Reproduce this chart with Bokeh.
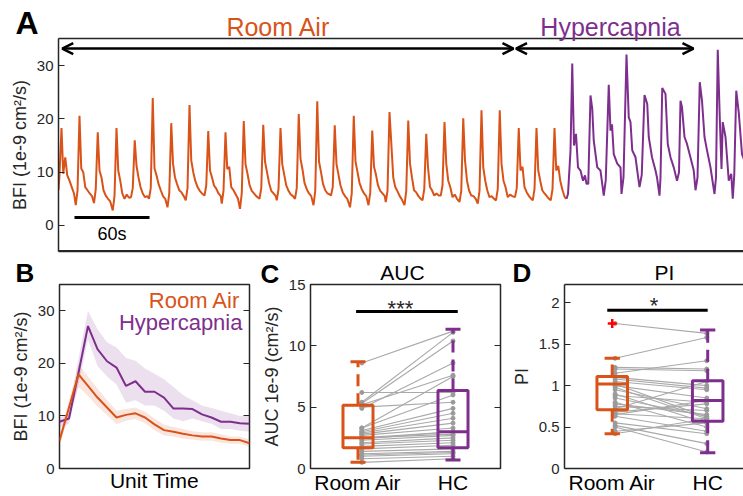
from bokeh.plotting import figure
from bokeh.layouts import column, row
from bokeh.models import Range1d, LinearAxis, Label, Arrow, OpenHead, FixedTicker, Span
from bokeh.embed import file_html
from bokeh.resources import INLINE

ORANGE = "#D95319"
PURPLE = "#7E2F8E"
AX = "#262626"
GRAY_LINE = "#a9a9a9"
GRAY_DOT = "#9a9a9a"
FONT = "Liberation Sans"

# ---------------- Panel A: continuous BFI trace (time in s) ----------------
ra_t = [
    0.0, 0.8, 2.4, 3.8, 5.4, 7.0, 8.8, 10.6, 12.4,
    13.8, 15.2, 16.8, 18.2, 19.8, 21.4, 23.2, 25.0, 26.8,
    28.4, 29.8, 31.4, 32.8, 34.4, 36.0, 37.8, 39.6, 41.4,
    43.4, 44.8, 46.4, 47.8, 49.4, 51.0, 52.8, 54.6, 56.4,
    58.0, 59.4, 61.0, 62.4, 64.0, 65.6, 67.4, 69.2, 71.0,
    72.4, 73.8, 75.4, 76.8, 78.4, 80.0, 81.8, 83.6, 85.4,
    87.2, 88.6, 90.2, 91.6, 93.2, 94.8, 96.6, 98.4, 100.2,
    101.8, 103.2, 104.8, 106.2, 107.8, 109.4, 111.2, 113.0, 114.8,
    116.8, 118.2, 119.8, 121.2, 122.8, 124.4, 126.2, 128.0, 129.8,
    130.6, 132.0, 133.6, 135.0, 136.6, 138.2, 140.0, 141.8, 143.6,
    145.2, 146.6, 148.2, 149.6, 151.2, 152.8, 154.6, 156.4, 158.2,
    160.8, 162.2, 163.8, 165.2, 166.8, 168.4, 170.2, 172.0, 173.8,
    174.6, 176.0, 177.6, 179.0, 180.6, 182.2, 184.0, 185.8, 187.6,
    189.2, 190.6, 192.2, 193.6, 195.2, 196.8, 198.6, 200.4, 202.2,
    204.0, 205.4, 207.0, 208.4, 210.0, 211.6, 213.4, 215.2, 217.0,
    218.0, 219.4, 221.0, 222.4, 224.0, 225.6, 227.4, 229.2, 231.0,
    233.2, 234.6, 236.2, 237.6, 239.2, 240.8, 242.6, 244.4, 246.2,
    248.0, 249.4, 251.0, 252.4, 254.0, 255.6, 257.4, 259.2, 261.0,
    261.8, 263.2, 264.8, 266.2, 267.8, 269.4, 271.2, 273.0, 274.8,
    276.8, 278.2, 279.8, 281.2, 282.8, 284.4, 286.2, 288.0, 289.8,
    291.2, 292.6, 294.2, 295.6, 297.2, 298.8, 300.6, 302.4, 304.2,
    305.8, 307.2, 308.8, 310.2, 311.8, 313.4, 315.2, 317.0, 318.8,
    320.8, 322.2, 323.8, 325.2, 326.8, 328.4, 330.2, 332.0, 333.8,
    335.4, 336.8, 338.4, 339.8, 341.4, 343.0, 344.8, 346.6, 348.4,
    350.0, 351.4, 353.0, 354.4, 356.0, 357.6, 359.4, 361.2, 363.0,
    365.2, 366.6, 368.2, 369.6, 371.2, 372.8, 374.6, 376.4, 378.2,
    379.4, 380.8, 382.4, 383.8, 385.4, 387.0, 388.8, 390.6, 392.4,
    393.8, 395.2, 396.8, 398.2, 399.8, 401.4, 403.2, 405.0, 406.4,
]
ra_bfi = [
    6.6, 9.5, 18.3, 9.7, 12.8, 9.4, 8.4, 7.2, 6.0,
    3.8, 6.5, 20.6, 10.7, 10.0, 7.2, 6.6, 6.0, 5.5,
    4.2, 6.8, 17.5, 10.3, 9.0, 6.6, 5.6, 5.0, 4.5,
    2.8, 5.5, 18.3, 10.3, 8.4, 6.0, 5.0, 5.8, 5.2,
    5.3, 7.0, 16.0, 11.2, 9.0, 7.2, 6.0, 5.3, 5.5,
    5.0, 7.0, 23.9, 10.7, 9.4, 7.8, 6.6, 5.5, 5.0,
    3.4, 6.0, 19.2, 11.6, 9.0, 7.8, 6.6, 6.2, 5.5,
    4.7, 7.0, 22.6, 12.2, 10.0, 8.4, 7.2, 6.5, 6.0,
    5.6, 7.5, 17.7, 10.3, 9.0, 7.5, 6.9, 6.0, 5.5,
    4.1, 6.5, 17.5, 10.6, 11.0, 7.2, 6.6, 5.8, 5.0,
    3.1, 6.0, 19.6, 11.5, 9.7, 7.6, 6.5, 6.0, 5.5,
    5.0, 7.0, 18.9, 12.0, 10.0, 8.0, 6.5, 6.0, 5.5,
    4.7, 6.8, 18.3, 11.5, 9.5, 7.5, 6.5, 5.8, 5.5,
    5.0, 7.0, 20.9, 12.5, 10.5, 8.0, 6.8, 6.0, 5.5,
    3.8, 6.5, 23.3, 12.0, 10.0, 7.8, 6.6, 6.0, 5.8,
    5.6, 7.2, 18.8, 11.5, 9.5, 7.5, 6.2, 5.5, 5.0,
    3.4, 6.0, 20.6, 12.0, 10.0, 8.0, 6.8, 6.0, 5.5,
    3.8, 6.2, 17.8, 11.0, 9.5, 7.5, 6.5, 6.0, 5.5,
    4.4, 6.5, 21.3, 15.6, 9.0, 7.2, 6.4, 5.5, 4.8,
    3.8, 6.5, 19.7, 11.6, 9.0, 6.6, 6.2, 5.5, 5.0,
    4.7, 6.8, 17.2, 10.9, 7.2, 6.6, 5.6, 6.0, 5.6,
    5.6, 7.5, 19.4, 11.6, 8.4, 7.2, 5.3, 5.8, 5.0,
    4.4, 6.5, 20.1, 12.2, 8.4, 6.6, 5.6, 5.5, 5.0,
    4.1, 6.5, 21.6, 10.9, 8.4, 6.6, 5.3, 5.5, 5.0,
    4.7, 6.8, 21.6, 11.6, 8.4, 7.2, 5.3, 5.8, 5.5,
    5.3, 7.0, 18.3, 10.3, 11.0, 7.2, 6.2, 5.5, 5.0,
    4.7, 6.8, 18.3, 10.3, 8.4, 6.6, 6.0, 5.5, 5.0,
    4.7, 6.8, 18.3, 10.3, 11.2, 8.4, 6.6, 5.3, 5.0,
]
hc_t = [
    406.4, 407.6, 409.6, 411.0, 412.4, 414.0, 415.6, 417.6, 419.6, 421.2, 422.4,
    423.8, 425.6, 427.0, 428.2, 431.0, 433.6, 436.2,
    437.8, 440.2, 441.6, 442.8, 444.2, 447.0, 449.6, 450.4,
    452.0, 454.4, 456.2, 457.6, 459.0, 461.6, 463.0, 464.8,
    466.6, 468.8, 471.0, 472.2, 474.8, 477.6, 478.8, 480.8,
    481.6, 483.0, 485.6, 487.4, 489.6, 492.2, 494.8,
    496.4, 497.6, 498.8, 500.8, 502.8, 506.2, 508.2, 509.6,
    511.2, 513.0, 514.8, 516.8, 518.8, 521.6, 522.8, 524.8,
    526.0, 527.4, 529.0, 530.4, 531.4, 533.6, 536.2, 538.2, 539.4,
    540.6, 542.2, 544.2, 546.8, 549.0, 552.0,
]
hc_bfi = [
    5.0, 5.9, 14.0, 30.4, 15.0, 17.2, 10.9, 10.3, 8.4, 9.4, 7.8,
    7.8, 24.4, 21.9, 15.9, 10.9, 10.3, 5.6,
    8.5, 26.4, 17.8, 19.0, 13.4, 11.6, 10.9, 5.9,
    9.0, 32.1, 20.3, 19.4, 14.1, 12.8, 10.3, 7.2,
    9.5, 24.5, 22.8, 16.6, 12.8, 10.3, 9.0, 5.6,
    9.0, 25.8, 24.7, 15.3, 12.8, 10.9, 8.4,
    10.0, 23.4, 22.2, 16.6, 15.3, 12.2, 10.3, 6.6,
    9.0, 26.9, 23.4, 16.6, 14.1, 10.9, 9.0, 5.9,
    9.0, 33.0, 20.3, 10.6, 19.4, 16.6, 8.4, 9.7, 5.0,
    9.5, 25.3, 21.2, 13.4, 12.0, 10.5,
]
a_yticks = [0, 10, 20, 30]
ra_span = (3.0, 364.0)      # Room Air period arrow (s)
hc_span = (366.0, 508.0)    # Hypercapnia period arrow (s)
scale_start, scale_len = 12.8, 60.0

# ---------------- Panel B: averaged single pulse ----------------
unit_t = list(range(21))
b_ra_mean = [5.3, 11.6, 17.9, 15.7, 13.5, 11.6, 9.7, 10.2, 10.5, 9.7, 8.4,
             7.3, 7.0, 6.6, 6.3, 6.1, 6.1, 5.7, 5.4, 5.4, 4.8]
b_ra_hi = [6.3, 13.0, 19.8, 17.5, 15.2, 13.0, 11.0, 11.3, 11.6, 10.8, 9.5,
           8.3, 7.9, 7.5, 7.1, 6.9, 6.9, 6.5, 6.1, 6.1, 5.5]
b_ra_lo = [4.3, 10.0, 15.5, 13.8, 11.8, 10.2, 8.4, 9.1, 9.4, 8.6, 7.3,
           6.3, 6.1, 5.7, 5.5, 5.3, 5.3, 4.9, 4.7, 4.7, 4.1]
b_hc_mean = [8.9, 9.5, 18.2, 27.1, 22.7, 20.4, 19.2, 15.7, 16.6, 14.6, 14.6,
             13.5, 11.4, 11.4, 11.3, 10.3, 9.7, 8.9, 8.9, 8.6, 8.5]
b_hc_hi = [9.6, 10.5, 21.0, 30.0, 26.5, 24.0, 23.0, 21.0, 20.5, 19.0, 18.0,
           17.0, 15.5, 14.0, 13.0, 12.0, 11.5, 11.0, 10.5, 10.0, 10.0]
b_hc_lo = [7.8, 8.5, 16.0, 24.5, 19.5, 17.5, 16.0, 12.5, 13.0, 12.0, 12.0,
           11.0, 9.5, 9.0, 9.5, 9.0, 8.5, 7.5, 7.5, 7.2, 7.0]
b_yticks = [0, 10, 20, 30]

# ---------------- Panel C: AUC, paired per subject ----------------
groups = ["Room Air", "HC"]
auc_ra = [8.6, 5.4, 5.3, 4.9, 5.2, 3.3, 6.2, 5.0, 3.3, 3.1, 3.0, 2.9, 2.8, 2.7,
          2.5, 2.5, 2.4, 2.3, 2.1, 2.0, 1.8, 1.6, 1.4, 1.2, 1.1, 1.0, 0.8, 0.5]
auc_hc = [11.2, 11.1, 10.4, 8.6, 7.6, 7.5, 6.2, 5.4, 6.0, 4.9, 4.5, 4.1, 3.7, 3.3,
          3.0, 2.8, 3.0, 2.7, 2.5, 2.3, 2.1, 1.9, 1.6, 1.4, 1.3, 1.2, 1.0, 0.8]
auc_lo = [0.5, 0.7]
auc_q1 = [1.7, 1.7]
auc_med = [2.5, 3.0]
auc_q3 = [5.15, 6.35]
auc_hi = [8.7, 11.35]
auc_sig = "***"
auc_yticks = [0, 5, 10, 15]

# ---------------- Panel D: PI, paired per subject ----------------
pi_ra = [1.75, 1.33, 1.22, 1.20, 1.15, 1.10, 1.08, 1.05, 1.02, 1.00, 0.98, 0.95,
         0.90, 0.88, 0.85, 0.80, 0.78, 0.75, 0.72, 0.68, 0.66, 0.65, 0.63, 0.55,
         0.52, 0.50, 0.45, 0.42]
pi_hc = [1.63, 1.58, 1.20, 1.18, 1.30, 1.00, 0.97, 0.95, 0.62, 0.85, 0.60, 0.72,
         0.55, 0.80, 0.63, 0.50, 0.65, 0.70, 1.05, 0.78, 0.60, 0.82, 0.45, 0.42,
         0.30, 0.20, 0.55, 0.60]
pi_lo = [0.42, 0.19]
pi_q1 = [0.71, 0.57]
pi_med = [1.02, 0.82]
pi_q3 = [1.11, 1.06]
pi_hi = [1.33, 1.67]
pi_outlier = [1.75]
pi_sig = "*"
pi_yticks = [0, 0.5, 1, 1.5, 2]

GROUP_COLORS = [ORANGE, PURPLE]


def base_fig(**kw):
    p = figure(output_backend="svg", toolbar_location=None, **kw)
    p.grid.visible = False
    p.background_fill_color = "white"
    p.border_fill_color = "white"
    return p


def style_y(ax, ticks, fmt_size="15px"):
    ax.ticker = FixedTicker(ticks=ticks)
    ax.major_tick_in = 6
    ax.major_tick_out = 0
    ax.major_tick_line_color = AX
    ax.major_tick_line_width = 1.2
    ax.minor_tick_line_color = None
    ax.major_label_text_font = FONT
    ax.major_label_text_font_size = fmt_size
    ax.major_label_text_color = AX
    ax.major_label_standoff = 5
    ax.axis_label_text_font = FONT
    ax.axis_label_text_font_style = "normal"
    ax.axis_label_text_color = AX
    ax.axis_label_text_font_size = "18px"
    ax.axis_label_standoff = 4


def tick_only_axis(ticks):
    # mirrored tick marks on the right edge of a boxed panel, no labels
    ax = LinearAxis()
    style_y(ax, ticks, "1px")
    ax.major_label_text_color = None
    ax.major_label_standoff = 0
    ax.axis_line_color = None
    return ax


def bare_axis(ax, line=True):
    ax.ticker = FixedTicker(ticks=[])
    ax.major_tick_in = 0
    ax.major_tick_out = 0
    ax.minor_tick_line_color = None
    ax.major_label_text_font_size = "1px"
    ax.major_label_text_color = None
    ax.major_label_standoff = 0
    ax.axis_line_color = AX if line else None
    ax.axis_line_width = 1.5


def text(p, x, y, s, size, color=AX, align="left", bold=False):
    p.add_layout(Label(x=x, y=y, text=s, text_font=FONT, text_font_size=size,
                       text_color=color, text_align=align, text_baseline="middle",
                       text_font_style="bold" if bold else "normal"))


# ---- A ----
a_ylim = (-4.9, 35.1)
pA = base_fig(width=743, height=255, x_range=Range1d(0, 548), y_range=Range1d(*a_ylim),
              min_border_left=58, min_border_right=0, min_border_top=38, min_border_bottom=4)
pA.outline_line_color = None
style_y(pA.yaxis[0], a_yticks)
pA.yaxis[0].axis_line_color = AX
pA.yaxis[0].axis_line_width = 1.5
pA.yaxis[0].axis_label = "BFI (1e-9 cm²/s)"
bare_axis(pA.xaxis[0])
top_a = LinearAxis()
bare_axis(top_a)
pA.add_layout(top_a, "above")
# bottom edge of the open-ended box
pA.add_layout(Span(location=a_ylim[0], dimension="width", line_color=AX, line_width=3))

pA.line(ra_t, ra_bfi, line_color=ORANGE, line_width=2)
pA.line(hc_t, hc_bfi, line_color=PURPLE, line_width=2)

for (x0, x1) in (ra_span, hc_span):
    pA.add_layout(Arrow(x_start=x0, y_start=33.2, x_end=x1, y_end=33.2,
                        line_width=2.5, line_color="black",
                        start=OpenHead(size=11, line_width=2.5, line_color="black"),
                        end=OpenHead(size=11, line_width=2.5, line_color="black")))
pA.line([scale_start, scale_start + scale_len], [1.5, 1.5], line_color="black", line_width=3)
text(pA, scale_start + scale_len / 2, -1.61, "60s", "18px", "black", align="center")

# ---- B ----
pB = base_fig(width=255, height=241, x_range=Range1d(0, 20), y_range=Range1d(0, 35),
              min_border_left=59, min_border_right=6, min_border_top=29, min_border_bottom=27)
pB.outline_line_color = AX
pB.outline_line_width = 1.5
style_y(pB.yaxis[0], b_yticks)
pB.yaxis[0].axis_line_color = None
pB.yaxis[0].axis_label = "BFI (1e-9 cm²/s)"
pB.add_layout(tick_only_axis(b_yticks), "right")
bare_axis(pB.xaxis[0], line=False)
pB.xaxis[0].axis_label = "Unit Time"
pB.xaxis[0].axis_label_text_font = FONT
pB.xaxis[0].axis_label_text_font_style = "normal"
pB.xaxis[0].axis_label_text_font_size = "21px"
pB.xaxis[0].axis_label_text_color = "black"
pB.xaxis[0].axis_label_standoff = 0

pB.varea(unit_t, b_hc_lo, b_hc_hi, fill_color=PURPLE, fill_alpha=0.15)
pB.varea(unit_t, b_ra_lo, b_ra_hi, fill_color=ORANGE, fill_alpha=0.15)
pB.line(unit_t, b_hc_mean, line_color=PURPLE, line_width=2)
pB.line(unit_t, b_ra_mean, line_color=ORANGE, line_width=2)
text(pB, 19.05, 31.94, "Room Air", "22px", ORANGE, "right")
text(pB, 19.26, 27.77, "Hypercapnia", "22px", PURPLE, "right")


def box_panel(p, ra, hc, lo, q1, med, q3, hi, xs_pts, half_w):
    # paired subject lines and dots
    p.segment([xs_pts[0]] * len(ra), ra, [xs_pts[1]] * len(hc), hc,
              line_color=GRAY_LINE, line_width=1.1)
    p.scatter([xs_pts[0]] * len(ra), ra, size=4, color=GRAY_DOT)
    p.scatter([xs_pts[1]] * len(hc), hc, size=4, color=GRAY_DOT)
    for i, c in enumerate(GROUP_COLORS):
        x = i + 1
        p.segment([x, x], [q3[i], q1[i]], [x, x], [hi[i], lo[i]],
                  line_color=c, line_width=3, line_dash="12 7")
        p.segment([x - half_w / 2] * 2, [hi[i], lo[i]], [x + half_w / 2] * 2, [hi[i], lo[i]],
                  line_color=c, line_width=3)
        p.quad(left=[x - half_w], right=[x + half_w], bottom=[q1[i]], top=[q3[i]],
               fill_color=None, line_color=c, line_width=3)
        p.segment([x - half_w], [med[i]], [x + half_w], [med[i]], line_color=c, line_width=3)


def cat_axis(ax):
    ax.ticker = FixedTicker(ticks=[1, 2])
    ax.major_label_overrides = {1: groups[0], 2: groups[1]}
    ax.major_tick_in = 0
    ax.major_tick_out = 0
    ax.minor_tick_line_color = None
    ax.major_label_text_font = FONT
    ax.major_label_text_font_size = "21px"
    ax.major_label_text_color = "black"
    ax.major_label_standoff = 2


# ---- C ----
pC = base_fig(width=253, height=241, x_range=Range1d(0.5, 2.5), y_range=Range1d(0, 15),
              min_border_left=55, min_border_right=8, min_border_top=29, min_border_bottom=27)
pC.outline_line_color = AX
pC.outline_line_width = 1.5
style_y(pC.yaxis[0], auc_yticks)
pC.yaxis[0].axis_line_color = None
pC.yaxis[0].axis_label = "AUC 1e-9 (cm²/s)"
pC.add_layout(tick_only_axis(auc_yticks), "right")
cat_axis(pC.xaxis[0])
pC.xaxis[0].axis_line_color = None
box_panel(pC, auc_ra, auc_hc, auc_lo, auc_q1, auc_med, auc_q3, auc_hi, (1.04, 2.0), 0.158)
pC.line([0.98, 2.05], [12.8, 12.8], line_color="black", line_width=3)
text(pC, 1.447, 13.08, auc_sig, "22px", AX, "center")

# ---- D ----
pD = base_fig(width=235, height=241, x_range=Range1d(0.5, 2.375), y_range=Range1d(0, 2.22),
              min_border_left=55, min_border_right=0, min_border_top=29, min_border_bottom=27)
pD.outline_line_color = None
style_y(pD.yaxis[0], pi_yticks)
pD.yaxis[0].axis_line_color = AX
pD.yaxis[0].axis_line_width = 1.5
pD.yaxis[0].axis_label = "PI"
pD.yaxis[0].major_label_overrides = {0: "0", 0.5: "0.5", 1: "1", 1.5: "1.5", 2: "2"}
cat_axis(pD.xaxis[0])
pD.xaxis[0].axis_line_color = AX
pD.xaxis[0].axis_line_width = 1.5
top_d = LinearAxis()
bare_axis(top_d)
pD.add_layout(top_d, "above")
box_panel(pD, pi_ra, pi_hc, pi_lo, pi_q1, pi_med, pi_q3, pi_hi, (1.03, 1.99), 0.16)
pD.scatter([1.0] * len(pi_outlier), pi_outlier, marker="cross", size=9,
           line_color="red", line_width=2.5)
pD.line([0.948, 2.0], [1.91, 1.91], line_color="black", line_width=3)
text(pD, 1.438, 1.962, pi_sig, "22px", AX, "center")

# ---- page-level headings (panel letters and panel titles), pixel coordinates ----
heads = figure(width=743, height=496, x_range=Range1d(0, 743), y_range=Range1d(496, 0),
               x_axis_location=None, y_axis_location=None, output_backend="svg",
               toolbar_location=None, min_border=0, min_border_left=0, min_border_right=0,
               min_border_top=0, min_border_bottom=0,
               styles={"position": "absolute", "top": "0px", "left": "0px",
                       "z-index": "10", "pointer-events": "none"})
heads.grid.visible = False
heads.outline_line_color = None
heads.background_fill_color = None
heads.border_fill_color = None
text(heads, 15, 22.5, "A", "32px", "black", bold=True)
text(heads, 278, 26, "Room Air", "25px", ORANGE, "center")
text(heads, 610, 26, "Hypercapnia", "25px", PURPLE, "center")
text(heads, 15, 272.5, "B", "26px", "black", bold=True)
text(heads, 260, 273.5, "C", "26px", "black", bold=True)
text(heads, 402, 271.5, "AUC", "21px", "black", "center")
text(heads, 512, 272, "D", "26px", "black", bold=True)
text(heads, 664, 271.5, "PI", "21px", "black", "center")

layout = column(pA, row(pB, pC, pD, spacing=0), spacing=0)
open("out.html", "w").write(file_html([layout, heads], INLINE))
